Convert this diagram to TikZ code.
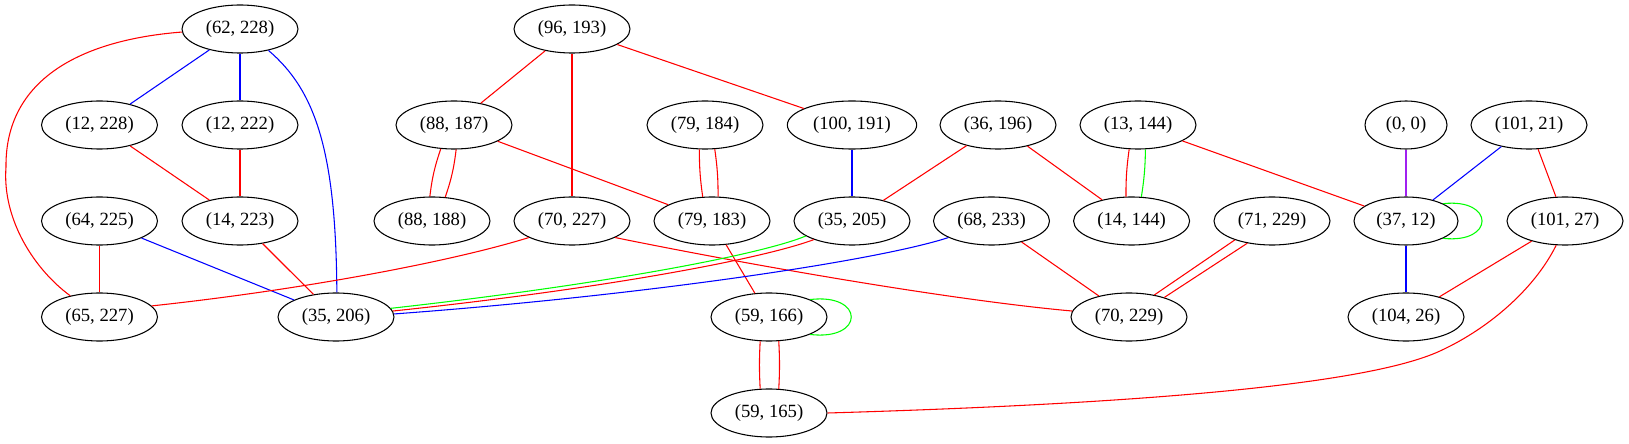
\documentclass[tikz,border=0pt]{standalone}
\usepackage{fontspec}
\setmainfont{Liberation Serif}
\usetikzlibrary{shapes.geometric}
\definecolor{gvpurple}{RGB}{160,32,240}

\begin{document}
\begin{tikzpicture}[x=0.75pt, y=0.75pt,
  state/.style={draw, ellipse, line width=0.8pt, minimum width=87pt, minimum height=36pt, inner sep=0pt, font=\fontsize{14pt}{16pt}\selectfont},
  link/.style={line width=0.8pt}]
\useasboundingbox (0,0) rectangle (1629,443);

% Top row
\node[state] (p62_228) at (240,414) {(62, 228)};
\node[state] (p96_193) at (572,414) {(96, 193)};

% Second row
\node[state] (p12_228) at (99.5,318) {(12, 228)};
\node[state] (p12_222) at (240,318) {(12, 222)};
\node[state] (p88_187) at (454,318) {(88, 187)};
\node[state] (p79_184) at (705,318) {(79, 184)};
\node[state, minimum width=97pt] (p100_191) at (852,318) {(100, 191)};
\node[state] (p36_196) at (998,318) {(36, 196)};
\node[state] (p13_144) at (1138,318) {(13, 144)};
\node[state, minimum width=61.5pt] (p0_0) at (1406,318) {(0, 0)};
\node[state] (p101_21) at (1529,318) {(101, 21)};

% Third row
\node[state] (p64_225) at (99.5,222) {(64, 225)};
\node[state] (p14_223) at (240,222) {(14, 223)};
\node[state] (p88_188) at (432,222) {(88, 188)};
\node[state] (p70_227) at (572,222) {(70, 227)};
\node[state] (p79_183) at (712,222) {(79, 183)};
\node[state] (p35_205) at (852,222) {(35, 205)};
\node[state] (p68_233) at (991.5,222) {(68, 233)};
\node[state] (p14_144) at (1131.6,222) {(14, 144)};
\node[state] (p71_229) at (1272,222) {(71, 229)};
\node[state, minimum width=78pt] (p37_12) at (1406,222) {(37, 12)};
\node[state] (p101_27) at (1565,222) {(101, 27)};

% Fourth row
\node[state] (p65_227) at (99.5,126) {(65, 227)};
\node[state] (p35_206) at (336,126) {(35, 206)};
\node[state] (p59_166) at (769,126) {(59, 166)};
\node[state] (p70_229) at (1129,126) {(70, 229)};
\node[state] (p104_26) at (1406,126) {(104, 26)};

% Bottom
\node[state] (p59_165) at (769,30) {(59, 165)};

% Straight edges
\draw[link, blue] (p62_228) -- (p12_228);
\draw[link, blue] (p62_228) -- (p12_222);
\draw[link, red] (p12_228) -- (p14_223);
\draw[link, red] (p12_222) -- (p14_223);
\draw[link, red] (p14_223) -- (p35_206);
\draw[link, red] (p64_225) -- (p65_227);
\draw[link, blue] (p64_225) -- (p35_206);
\draw[link, red] (p96_193) -- (p88_187);
\draw[link, red] (p96_193) -- (p70_227);
\draw[link, red] (p96_193) -- (p100_191);
\draw[link, red] (p88_187) -- (p79_183);
\draw[link, blue] (p100_191) -- (p35_205);
\draw[link, red] (p36_196) -- (p35_205);
\draw[link, red] (p36_196) -- (p14_144);
\draw[link, red] (p13_144) -- (p37_12);
\draw[link, red] (p68_233) -- (p70_229);
\draw[link, red] (p79_183) -- (p59_166);
\draw[link, gvpurple] (p0_0) -- (p37_12);
\draw[link, blue] (p101_21) -- (p37_12);
\draw[link, red] (p101_21) -- (p101_27);
\draw[link, blue] (p37_12) -- (p104_26);
\draw[link, red] (p101_27) -- (p104_26);

% Double edges
\draw[link, red] (p88_187.-119) to[bend right=6] (p88_188.95);
\draw[link, red] (p88_187.-85) to[bend left=6] (p88_188.61);
\draw[link, red] (p79_184.-103) to[bend right=4] (p79_183.111);
\draw[link, red] (p79_184.-68) to[bend left=4] (p79_183.76);
\draw[link, red] (p13_144.-110) to[bend right=4] (p14_144.103);
\draw[link, green] (p13_144.-73) to[bend left=4] (p14_144.68);
\draw[link, red] (p59_166.-110) to[bend right=3] (p59_165.110);
\draw[link, red] (p59_166.-68) to[bend left=3] (p59_165.68);
\draw[link, red] (p71_229.-153) -- (p70_229.41);
\draw[link, red] (p71_229.-138) -- (p70_229.29);

% Curved edges
\draw[link, red] (p62_228.183) .. controls (80,403) and (5,363) .. (6,276)
  .. controls (2,223) and (35,173) .. (p65_227.144);
\draw[link, blue] (p62_228.-37) .. controls (315,353) and (336,293) .. (p35_206.88);
\draw[link, red] (p70_227.201) .. controls (450,181) and (300,153) .. (p65_227.12);
\draw[link, red] (p70_227.-21) .. controls (750,178) and (950,143) .. (p70_229.174);
\draw[link, green] (p35_205.198) .. controls (760,188) and (600,158) .. (p35_206.9);
\draw[link, red] (p35_205.206) .. controls (762,184) and (602,154) .. (p35_206.6);
\draw[link, blue] (p68_233.201) .. controls (880,183) and (650,148) .. (p35_206.3);
\draw[link, red] (p101_27.-110) .. controls (1535,155) and (1490,115) .. (1440,92)
  .. controls (1360,55) and (1100,38) .. (p59_165.east);

% Self loops
\draw[link, green] (p59_166.23) .. controls (865,150) and (865,102) .. (p59_166.-23);
\draw[link, green] (p37_12.25) .. controls (1495,245) and (1495,199) .. (p37_12.-25);
\end{tikzpicture}
\end{document}
